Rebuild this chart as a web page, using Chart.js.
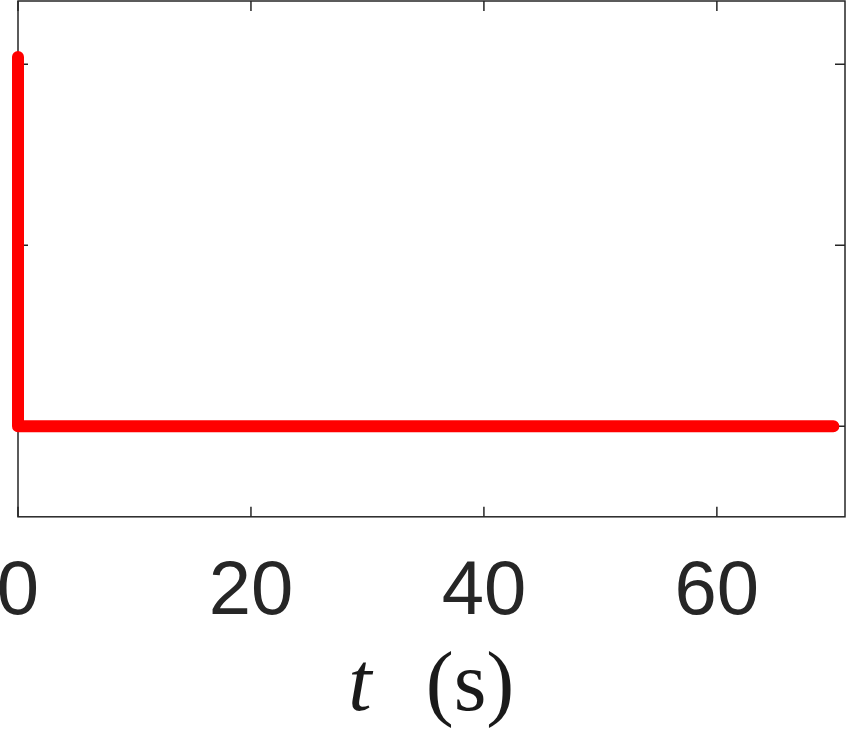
<!DOCTYPE html>
<html>
<head>
<meta charset="utf-8">
<script src="https://cdn.jsdelivr.net/npm/chart.js@4/dist/chart.umd.min.js"></script>
<style>
  html, body { margin: 0; padding: 0; background: #fff; }
  #wrap { width: 849px; height: 735px; }
</style>
</head>
<body>
<div id="wrap"><canvas id="stepChart" width="849" height="735"></canvas></div>
<script>
// step response
var timeValues = [0, 0, 70];
var responseValues = [2.04, 0, 0];
var xTicks = [0, 20, 40, 60];
var yTicks = [0, 1, 2];
var xRange = [0, 71];
var yRange = [-0.5, 2.35];

var axisColor = '#262626';

// MATLAB-like box with inward tick marks (under the line) and the mixed-font x label
var boxPlugin = {
    id: 'boxPlugin',
    beforeDatasetsDraw: function (chart) {
        var ctx = chart.ctx;
        var area = chart.chartArea;
        var xs = chart.scales.x, ys = chart.scales.y;
        var tickLen = 10;
        ctx.save();
        ctx.strokeStyle = axisColor;
        ctx.lineWidth = 1.5;
        ctx.strokeRect(area.left, area.top, area.right - area.left, area.bottom - area.top);
        ctx.beginPath();
        xTicks.forEach(function (v) {
            var px = xs.getPixelForValue(v);
            ctx.moveTo(px, area.bottom); ctx.lineTo(px, area.bottom - tickLen);
            ctx.moveTo(px, area.top); ctx.lineTo(px, area.top + tickLen);
        });
        yTicks.forEach(function (v) {
            var py = ys.getPixelForValue(v);
            ctx.moveTo(area.left, py); ctx.lineTo(area.left + tickLen, py);
            ctx.moveTo(area.right, py); ctx.lineTo(area.right - tickLen, py);
        });
        ctx.stroke();
        ctx.restore();
    },
    afterDraw: function (chart) {
        var ctx = chart.ctx;
        ctx.save();
        // x label: italic t, upright (s)
        ctx.fillStyle = '#1a1a1a';
        ctx.textBaseline = 'alphabetic';
        ctx.textAlign = 'center';
        ctx.font = 'italic 84px "Liberation Serif", "DejaVu Serif", serif';
        ctx.fillText('t', 360, 710);
        ctx.font = '84px "Liberation Serif", "DejaVu Serif", serif';
        ctx.fillText('(s)', 470, 710);
        ctx.restore();
    }
};

var ctx = document.getElementById('stepChart').getContext('2d');
new Chart(ctx, {
    type: 'line',
    data: {
        datasets: [{
            data: timeValues.map(function (t, i) { return { x: t, y: responseValues[i] }; }),
            borderColor: '#ff0000',
            borderWidth: 12,
            borderCapStyle: 'round',
            borderJoinStyle: 'round',
            pointRadius: 0,
            fill: false,
            tension: 0,
            clip: false
        }]
    },
    options: {
        responsive: false,
        animation: false,
        layout: { padding: { left: 18, top: 1, right: 4, bottom: 73 } },
        plugins: { legend: { display: false }, tooltip: { enabled: false } },
        scales: {
            x: {
                type: 'linear',
                min: xRange[0],
                max: xRange[1],
                border: { display: false },
                grid: { display: false },
                afterBuildTicks: function (axis) {
                    axis.ticks = xTicks.map(function (v) { return { value: v }; });
                },
                afterFit: function (axis) {
                    // let the "0" label hang off the left edge like the original
                    axis.paddingLeft = 0;
                    axis.paddingRight = 0;
                },
                ticks: {
                    padding: 23,
                    color: '#262626',
                    font: { family: '"Liberation Sans", Arial, sans-serif', size: 76 }
                }
            },
            y: {
                type: 'linear',
                min: yRange[0],
                max: yRange[1],
                display: false
            }
        }
    },
    plugins: [boxPlugin]
});
</script>
</body>
</html>
